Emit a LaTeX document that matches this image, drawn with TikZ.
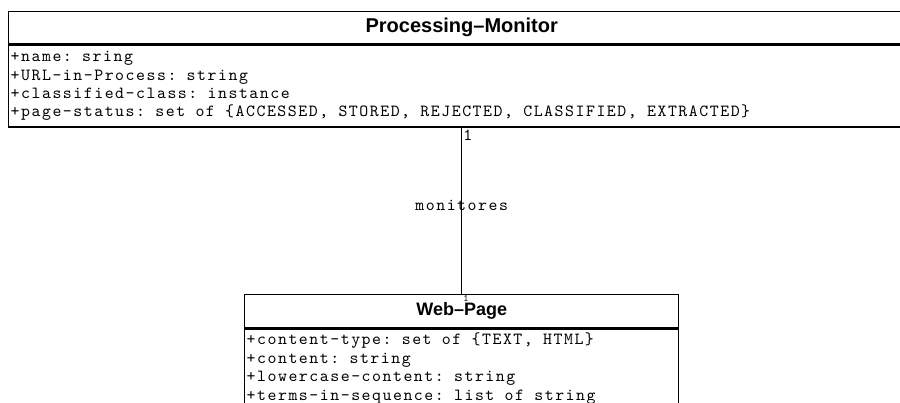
\documentclass[tikz,border=0pt]{standalone}
\usepackage{fontspec}
\setmainfont{Liberation Sans}
\newfontfamily\umlmono[LetterSpace=9]{lmmono10-regular.otf}
\newcommand\umlfont{\umlmono\fontsize{17}{18.4}\selectfont}
\usetikzlibrary{calc}

\tikzset{
  classhead/.style={draw, line width=1.4pt, anchor=north west, inner sep=0pt,
    font=\bfseries\fontsize{18}{18}\selectfont},
  attrbox/.style={draw, line width=1.4pt, anchor=north west, align=left,
    inner xsep=2pt, inner ysep=4pt, font=\umlfont,
    execute at begin node={\spaceskip=10.3pt\relax\xspaceskip=10.3pt\relax}},
  assoc/.style={line width=1.4pt},
  mult/.style={inner sep=1pt, font=\umlfont},
}

\begin{document}
\begin{tikzpicture}[x=1pt,y=-1pt]
            % 画布
            \useasboundingbox (0,0) rectangle (900,403);

            % 定义点
            \coordinate (M) at (8,11);
            \coordinate (W) at (244,294);

            % 类 Processing-Monitor
            \node[classhead, minimum width=906, minimum height=32, font=\bfseries\fontsize{20}{20}\selectfont] (monitor) at (M) {Processing–Monitor};
            \node[attrbox, text width=902, minimum height=82] (monitorattr) at (monitor.south west)
            {+name: sring\\
             +URL-in-Process: string\\
             +classified-class: instance\\
             +page-status: set of \{ACCESSED, STORED, REJECTED, CLASSIFIED, EXTRACTED\}};

            % 类 Web-Page
            \node[classhead, minimum width=434, minimum height=33] (page) at (W) {Web–Page};
            \node[attrbox, text width=430] (pageattr) at (page.south west)
            {+content-type: set of \{TEXT, HTML\}\\
             +content: string\\
             +lowercase-content: string\\
             +terms-in-sequence: list of string};

            % 关联 monitores
            \draw[assoc] (monitorattr.south) -- (page.north)
              node[midway, mult, yshift=5pt] (assoclabel) {monitores}
              node[at start, mult, anchor=north west] (multtop) {1}
              node[at end, inner sep=1pt, anchor=north west, font=\umlmono\fontsize{10}{10}\selectfont] (multbottom) {1};
\end{tikzpicture}
\end{document}
